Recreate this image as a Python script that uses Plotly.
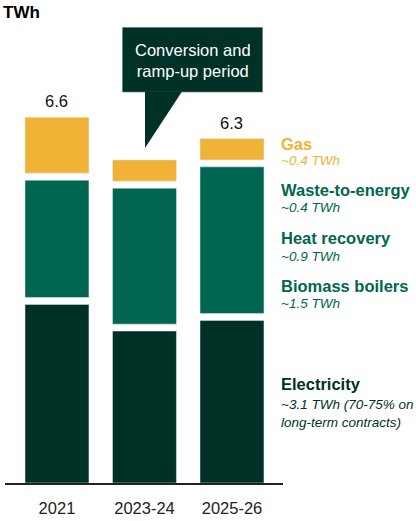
import plotly.graph_objects as go

# ---- data ----
periods = ["2021", "2023-24", "2025-26"]
electricity = [3.35, 2.85, 3.05]
heat = [2.20, 2.55, 2.75]
gas = [1.05, 0.40, 0.40]
total_labels = ["6.6", "", "6.3"]

legend_titles = ["Gas", "Waste-to-energy", "Heat recovery", "Biomass boilers", "Electricity"]
legend_subs = ["~0.4 TWh", "~0.4 TWh", "~0.9 TWh", "~1.5 TWh", "~3.1 TWh (70-75% on<br>long-term contracts)"]

# ---- style ----
GOLD = "#F0B335"
GREEN = "#00664F"
DARK = "#003126"
FONT = "Liberation Sans, Arial, sans-serif"
GAP = 0.13
W, H = 416, 521
ML, MR, MT, MB = 5, 133, 0, 38
YMAX = 9.06
PW, PH = W - ML - MR, H - MT - MB

def px(x):
    return (x - ML) / PW

def py(y):
    return 1 - (y - MT) / PH

xs = list(range(len(periods)))
base_heat = [e + GAP for e in electricity]
base_gas = [e + h + 2 * GAP for e, h in zip(electricity, heat)]

fig = go.Figure()
fig.add_bar(x=xs, y=electricity, base=[0] * len(xs), marker_color=DARK, width=0.731, hoverinfo="skip")
fig.add_bar(x=xs, y=heat, base=base_heat, marker_color=GREEN, width=0.731, hoverinfo="skip")
fig.add_bar(x=xs, y=gas, base=base_gas, marker_color=GOLD, width=0.731, hoverinfo="skip")

annotations = []
for i, lab in enumerate(total_labels):
    if lab:
        annotations.append(dict(x=xs[i], y=base_gas[i] + gas[i], xref="x", yref="y", text=lab,
                                showarrow=False, yanchor="bottom", yshift=5,
                                font=dict(family=FONT, size=16.5, color="#111111")))

# unit label
annotations.append(dict(x=0, y=1, xref="paper", yref="paper", text="<b>TWh</b>", showarrow=False,
                        xanchor="left", yanchor="middle", xshift=-4, yshift=-12,
                        font=dict(family=FONT, size=17, color="#000000")))

# legend labels
title_y = [144, 190, 238, 286, 384]
sub_y = [161, 207, 256, 303, 413]
colors = [GOLD, GREEN, GREEN, GREEN, DARK]
for t, s, ty, sy, c in zip(legend_titles, legend_subs, title_y, sub_y, colors):
    annotations.append(dict(x=px(281), y=py(ty), xref="paper", yref="paper", text=f"<b>{t}</b>",
                            showarrow=False, xanchor="left", yanchor="middle", xshift=-2,
                            font=dict(family=FONT, size=16.5, color=c)))
    annotations.append(dict(x=px(281), y=py(sy), xref="paper", yref="paper", text=f"<i>{s}</i>",
                            showarrow=False, xanchor="left", yanchor="middle", align="left", xshift=-2,
                            font=dict(family=FONT, size=13.5, color=c)))

# callout
annotations.append(dict(x=px(192.5), y=py(60.5), xref="paper", yref="paper",
                        text="Conversion and<br>ramp-up period", showarrow=False,
                        xanchor="center", yanchor="middle",
                        font=dict(family=FONT, size=16.5, color="#FFFFFF")))

shapes = [
    dict(type="rect", xref="paper", yref="paper", x0=px(122.5), x1=px(262.5), y0=py(92), y1=py(27.5),
         fillcolor=DARK, line=dict(color="#5a7a70", width=0.6), layer="above"),
    dict(type="path", xref="paper", yref="paper",
         path=f"M {px(145)} {py(91.5)} L {px(182)} {py(91.5)} L {px(145)} {py(148)} Z",
         fillcolor=DARK, line=dict(width=0), layer="above"),
]

fig.update_layout(
    width=W, height=H,
    margin=dict(l=ML, r=MR, t=MT, b=MB),
    barmode="overlay",
    showlegend=False,
    plot_bgcolor="white", paper_bgcolor="white",
    annotations=annotations,
    shapes=shapes,
    xaxis=dict(range=[-0.594, 2.583], tickvals=xs, ticktext=periods, showgrid=False,
               zeroline=False, showline=True, linecolor="#222222", linewidth=1.5,
               ticks="outside", ticklen=9, tickcolor="rgba(0,0,0,0)",
               tickfont=dict(family=FONT, size=16.5, color="#222222"), fixedrange=True),
    yaxis=dict(range=[0, YMAX], visible=False, fixedrange=True),
)

fig.write_html("out.html", config={"displayModeBar": False},
               post_script="document.body.style.margin='0';document.body.style.overflow='hidden';")
